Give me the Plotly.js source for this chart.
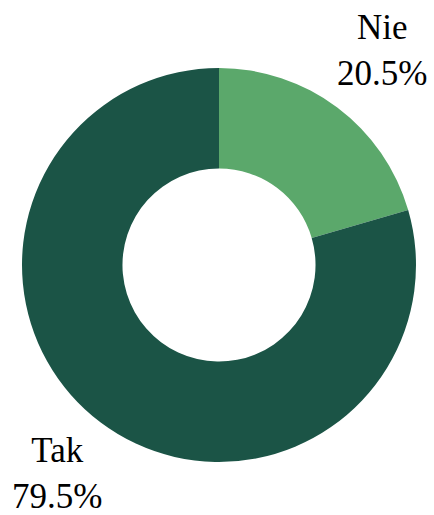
<!DOCTYPE html>
<html>
<head>
<meta charset="utf-8">
<script src="https://cdn.plot.ly/plotly-3.0.1.min.js"></script>
<style>html,body{margin:0;padding:0;background:#fff;}#chart{width:434px;height:515px;}</style>
</head>
<body>
<div id="chart"></div>
<script>
const labels = ["Nie", "Tak"];
const values = [20.5, 79.5];
const colors = ["#5ba86b", "#1b5446"];
// label placement (paper fractions) for each slice label
const labelPosX = [0.914, 0.089];
const labelPosY = [1.044, -0.028];

const total = values.reduce((a, b) => a + b, 0);

const trace = {
  type: "pie",
  labels: labels,
  values: values,
  hole: 0.49,
  sort: false,
  direction: "clockwise",
  rotation: 0,
  marker: {colors: colors, line: {width: 0}},
  textinfo: "none",
  showlegend: false,
  hoverinfo: "label+percent"
};

const font = {family: "Liberation Serif, Times New Roman, serif", size: 35, color: "#000"};

const annotations = labels.map((lab, i) => ({
  xref: "paper", yref: "paper",
  x: labelPosX[i], y: labelPosY[i],
  xanchor: "center", yanchor: "middle",
  text: lab + "<br>" + (values[i] / total * 100).toFixed(1) + "%",
  showarrow: false,
  font: font,
  align: "center",
  borderpad: 0
}));

const layout = {
  width: 434,
  height: 515,
  margin: {l: 22, r: 18, t: 68, b: 53},
  paper_bgcolor: "#fff",
  plot_bgcolor: "#fff",
  showlegend: false,
  annotations: annotations
};

Plotly.newPlot("chart", [trace], layout, {displayModeBar: false, staticPlot: true});
</script>
</body>
</html>
